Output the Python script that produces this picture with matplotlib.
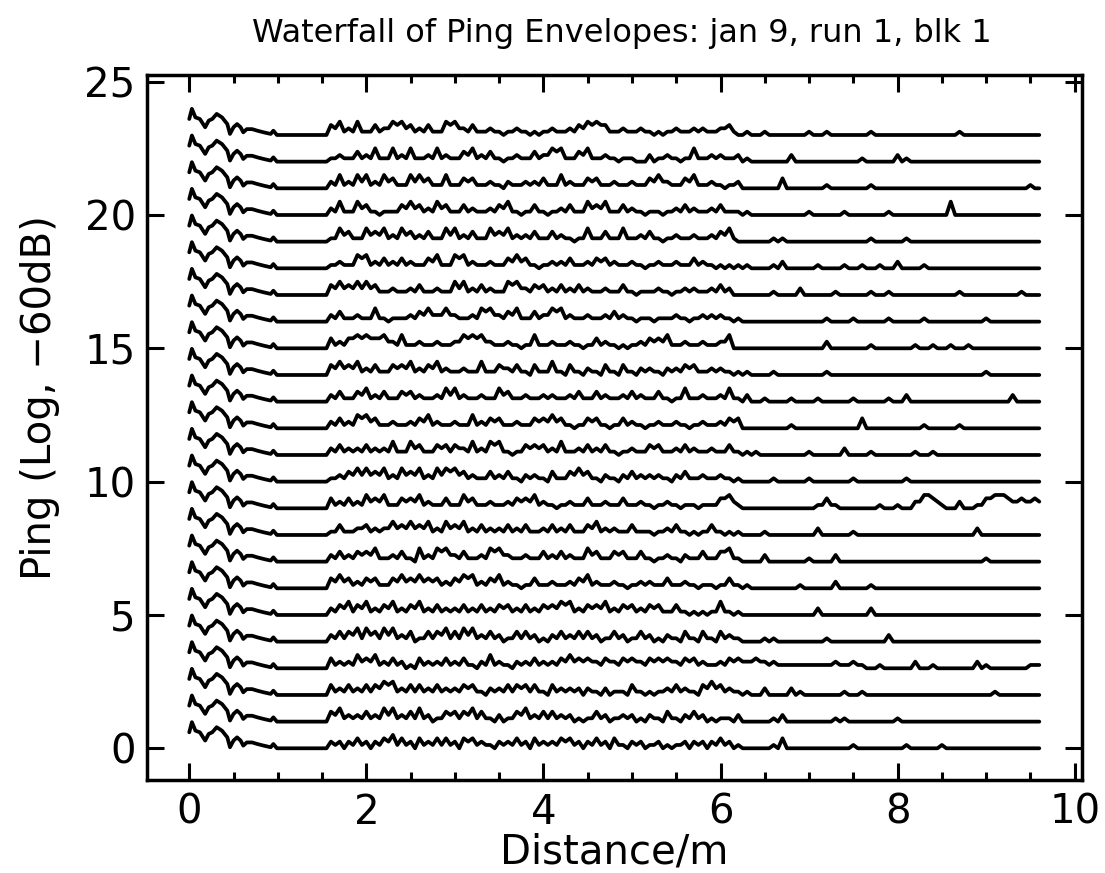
import numpy as np
import matplotlib.pyplot as plt
from matplotlib.ticker import MultipleLocator

title = "Waterfall of Ping Envelopes: jan 9, run 1, blk 1"
x_label = "Distance/m"
y_label = "Ping (Log, \u221260dB)"

# near-field ring-down, same shape on every ping (distance in m, level above baseline)
near_distance = [0.0, 0.03, 0.07, 0.12, 0.18, 0.22, 0.26, 0.31, 0.37, 0.43, 0.46,
                 0.50, 0.54, 0.58, 0.61, 0.65, 0.71, 0.77, 0.84, 0.92, 0.95, 0.99]
near_level = [0.60, 0.98, 0.66, 0.60, 0.29, 0.54, 0.60, 0.79, 0.66, 0.41, 0.04,
              0.29, 0.41, 0.29, 0.10, 0.22, 0.22, 0.16, 0.10, 0.04, 0.16, 0.00]

# far-field envelope, in eighths of a unit above each ping's baseline.
# peaks: one digit every 0.1 m from 1.5 m to 9.6 m
# troughs: the level half-way between two peak samples (1.55 m ... 9.55 m)
far_start = 1.5
far_step = 0.1
far_unit = 1 / 8
far_peaks = [
    "0222322343" "2323323321" "2232322332" "2323122121" "12222321" "0001300000" "0010000010" "0010000000" "0000",
    "0342232442" "3421333431" "2134233221" "1321221213" "12321112" "0001200000" "1100000100" "0000000000" "0000",
    "0323233442" "3323223312" "2333313222" "2121131112" "32134321" "1020021000" "0101000000" "0000000010" "0000",
    "0322434232" "1322323124" "2122322343" "3232332333" "23321233" "2322111111" "2121010002" "0100002100" "0011",
    "0233443442" "3133434423" "2133212323" "3213213212" "13131321" "0011000001" "0000002000" "0000000000" "0000",
    "0234342342" "3423223232" "3323233442" "3342332331" "31111411" "0000000020" "0000200000" "0000000000" "0000",
    "0343233134" "3433234423" "4211312123" "4212112213" "12111131" "1000001000" "2000100000" "0000000000" "0000",
    "0232334123" "1424423124" "4212132321" "4313313112" "12131341" "0020000100" "2000000000" "0000000100" "0000",
    "0131232243" "4342434232" "2323123231" "3422131112" "31113111" "0010000020" "0010000000" "0000002000" "0000",
    "0323243413" "3421314312" "1233421121" "3121312112" "11111341" "0000000013" "1000010102" "4310201344" "2322",
    "0123443424" "3424443213" "2312213134" "3121232221" "23121211" "0001000100" "0010000010" "0000000000" "0000",
    "0232232241" "4313332424" "4113332412" "3231121331" "23212131" "1100000100" "0200100001" "0100000000" "0000",
    "0232443121" "2342121423" "3121334311" "3311321121" "21121233" "0000010000" "0003000000" "1000100000" "0000",
    "0231342313" "3212442121" "4312122123" "1321232131" "14121241" "2010010010" "0010001020" "0000000000" "2000",
    "0343423133" "4234212141" "3231314131" "2131312212" "23312211" "1001000001" "0000000000" "0000000100" "0000",
    "0323443424" "1212124442" "1211412121" "1321112334" "12121240" "0000000002" "0000100001" "0101010000" "0000",
    "0231214111" "2342421244" "2341324421" "2123211111" "21122211" "0000000001" "0010001000" "1000000100" "0000",
    "0343443121" "2312144232" "1442332323" "2121311121" "12212320" "0001002000" "1000101000" "0000100000" "0100",
    "0121442323" "2134144212" "1343112231" "2332121121" "21321111" "1001200010" "0101010200" "1000000000" "0000",
    "0143143424" "3231442314" "3422313211" "4131412311" "21212340" "0001100000" "0000100010" "0000000000" "0000",
    "0241431113" "4324313212" "3411311231" "4341321111" "23212311" "1000000100" "0100001000" "0004000000" "0000",
    "0242442431" "4431413312" "1212231421" "3312121342" "13412112" "0000300001" "0000100000" "0000000000" "0010",
    "0121324142" "4124213423" "1121324413" "4121110212" "11412212" "1000020000" "0001000210" "0000000000" "0000",
    "0342413244" "3231442312" "1121112123" "4431212111" "21221230" "1010000101" "0000100000" "0000100000" "0000",
]
far_troughs = [
    "0101101211" "0111102110" "1110111210" "1101010100" "1010110" "0000000000" "0000000000" "0000000000" "0000",
    "0211111211" "1101212110" "0121111100" "1101100101" "0110010" "0000000000" "0000000000" "0000000000" "0000",
    "0111112311" "1111112101" "1121101110" "1001010011" "1102211" "0000000000" "0000000000" "0000000000" "0000",
    "0111221110" "0111111011" "1011111222" "2121221222" "1211112" "2221111111" "1111000000" "0000000000" "0001",
    "0112121211" "0112112111" "0111001111" "1011011001" "0101011" "0000000000" "0000000000" "0000000000" "0000",
    "0121211211" "2111111111" "2111122311" "2211211211" "1000110" "0000000000" "0000000000" "0000000000" "0000",
    "0221121122" "2221123112" "1101111112" "1111011111" "1101011" "0000000000" "0000000000" "0000000000" "0000",
    "0111221111" "0113211113" "2111111111" "2112111011" "0111131" "0000000000" "0000000000" "0000000000" "0000",
    "0111211222" "2211221111" "1111111111" "2111111011" "1001100" "0000000000" "0000000000" "0000000000" "0000",
    "0111122112" "2111112111" "1122110111" "1111111011" "0101132" "0000000001" "1000000000" "2420000134" "3223",
    "0112222112" "2112321111" "1101101122" "1010111110" "1111110" "0000000000" "0000000000" "0000000000" "0000",
    "0111111111" "2112121113" "1012211111" "1110111211" "1111111" "0000000000" "0000000000" "0000000000" "0000",
    "0111321111" "1211111112" "1111222101" "2101110111" "1011112" "0000000000" "0000000000" "0000000000" "0000",
    "0111211112" "1111211111" "2111111111" "1111111110" "1111111" "0000000000" "0000000000" "0000000000" "0000",
    "0222111122" "1121111111" "2110111010" "1010101101" "1211110" "0000000000" "0000000000" "0000000000" "0000",
    "0113333211" "1111123321" "1101111110" "1110011221" "1111120" "0000000000" "0000000000" "0000000000" "0000",
    "0111111011" "1222211132" "1211123111" "1111101011" "1011110" "0000000000" "0000000000" "0000000000" "0000",
    "0222221111" "1111121111" "1321211111" "1111101110" "1111110" "0000000000" "0000000000" "0000000000" "0000",
    "0111311111" "1121131111" "1221011111" "1211110111" "1111000" "0000000000" "0000000000" "0000000000" "0000",
    "0121122112" "1111211112" "2111111101" "1111111101" "1111121" "0000000000" "0000000000" "0000000000" "0000",
    "0111210112" "2112111111" "2101101111" "2211110101" "1111111" "0000000000" "0000000000" "0000000000" "0000",
    "0111211211" "2211112111" "0111111111" "2111111221" "1211101" "0000000000" "0000000000" "0000000000" "0000",
    "0111111111" "1111112111" "0111123112" "1110100011" "0111111" "0000000000" "0000000000" "0000000000" "0000",
    "0211111232" "1111321111" "0110011112" "3311111001" "1111121" "0000000000" "0000000000" "0000000000" "0000",
]

x_ticks = [0, 2, 4, 6, 8, 10]
y_ticks = [0, 5, 10, 15, 20, 25]

fig = plt.figure(figsize=(11.05, 8.73), dpi=100)
ax = fig.add_axes([0.1328, 0.1065, 0.8462, 0.8076])

for ping, (peaks, troughs) in enumerate(zip(far_peaks, far_troughs)):
    far_level = []
    for k, c in enumerate(peaks):
        far_level.append(int(c))
        if k < len(troughs) and k < len(peaks) - 1:
            far_level.append(int(troughs[k]))
    far_level = np.array(far_level) * far_unit
    far_distance = far_start + 0.5 * far_step * np.arange(len(far_level))
    x = np.concatenate([near_distance, far_distance])
    y = ping + np.concatenate([near_level, far_level])
    ax.plot(x, y, color="black", lw=2.7, solid_joinstyle="round", solid_capstyle="round")

ax.set_xlim(-0.48, 10.08)
ax.set_ylim(-1.19, 25.25)
ax.set_xticks(x_ticks)
ax.set_yticks(y_ticks)
ax.xaxis.set_minor_locator(MultipleLocator(0.5))

for s in ax.spines.values():
    s.set_linewidth(2.5)

ax.tick_params(which="both", direction="in", top=True, right=True, width=2.2)
ax.tick_params(which="major", length=12, labelsize=29)
ax.tick_params(axis="x", which="major", pad=9)
ax.tick_params(axis="y", which="major", pad=8)
ax.tick_params(which="minor", length=6)

ax.set_xlabel(x_label, fontsize=29, labelpad=0)
ax.set_ylabel(y_label, fontsize=29)
ax.yaxis.set_label_coords(-0.093, 0.542)
ax.set_title(title, fontsize=23, pad=24, x=0.508)

fig.savefig("out.png", dpi=100)
